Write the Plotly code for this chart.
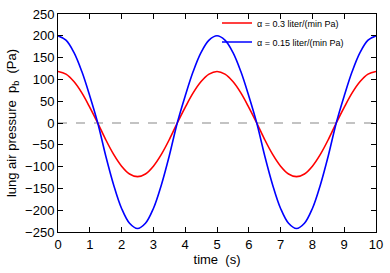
import plotly.graph_objects as go

time_s = [i * 0.25 for i in range(41)]

# lung air pressure (Pa), every 0.25 s
p_alpha_03 = [118, 112, 95, 69, 36, 0, -38, -72, -99, -117, -123,
              -117, -99, -72, -38, 0, 36, 69, 95, 112, 118,
              112, 95, 69, 36, 0, -38, -72, -99, -117, -123,
              -117, -99, -72, -38, 0, 36, 69, 95, 112, 118]
p_alpha_015 = [200, 190, 162, 118, 62, 0, -75, -142, -196, -230, -242,
               -230, -196, -142, -75, 0, 62, 118, 162, 190, 200,
               190, 162, 118, 62, 0, -75, -142, -196, -230, -242,
               -230, -196, -142, -75, 0, 62, 118, 162, 190, 200]

series_names = ["α = 0.3 liter/(min Pa)", "α = 0.15 liter/(min Pa)"]
x_ticks = list(range(0, 11))
y_ticks = list(range(-250, 251, 50))

font = "Liberation Sans, Arial, sans-serif"

fig = go.Figure()
fig.add_trace(go.Scatter(x=[0, 10], y=[0, 0], mode="lines",
                         line=dict(color="#888888", width=1.2, dash="dash"),
                         showlegend=False, hoverinfo="skip"))
fig.add_trace(go.Scatter(x=time_s, y=p_alpha_03, mode="lines", name=series_names[0],
                         line=dict(color="#ff0000", width=1.6, shape="spline")))
fig.add_trace(go.Scatter(x=time_s, y=p_alpha_015, mode="lines", name=series_names[1],
                         line=dict(color="#0000ff", width=1.6, shape="spline")))

axis_common = dict(showgrid=False, zeroline=False, showline=True, linecolor="black",
                   linewidth=1, mirror="ticks", ticks="inside", ticklen=5,
                   tickcolor="black", tickfont=dict(size=13, color="black", family=font))

fig.update_xaxes(range=[0, 10], tickvals=x_ticks, **axis_common,
                 title=dict(text="time  (s)", font=dict(size=13, color="black", family=font),
                            standoff=2))
fig.update_yaxes(range=[-250, 250], tickvals=y_ticks, **axis_common,
                 title=dict(text="lung air pressure  p<sub>b</sub>  (Pa)",
                            font=dict(size=13, color="black", family=font), standoff=5))

fig.update_layout(
    width=390, height=273,
    margin=dict(l=58, r=10, t=7, b=41),
    plot_bgcolor="white", paper_bgcolor="white",
    font=dict(family=font, color="black"),
    legend=dict(x=0.50, y=1.025, xanchor="left", yanchor="top",
                bgcolor="rgba(0,0,0,0)", font=dict(size=9, family=font),
                itemwidth=30, tracegroupgap=0),
)

fig.write_html("out.html", config={"displayModeBar": False},
               post_script="document.body.style.margin='0';")
